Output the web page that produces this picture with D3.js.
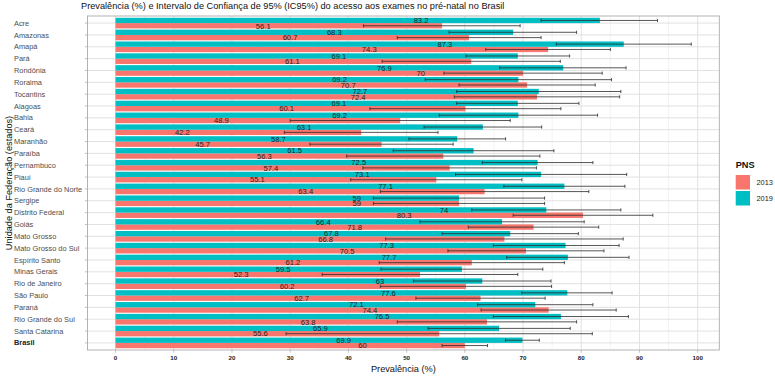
<!DOCTYPE html>
<html>
<head>
<meta charset="utf-8">
<script src="https://cdn.jsdelivr.net/npm/d3@7"></script>
<style>
html,body{margin:0;padding:0;background:#fff;}
svg{display:block;font-family:"Liberation Sans",Arial,Helvetica,sans-serif;}
</style>
</head>
<body>
<svg id="chart" width="775" height="386"></svg>
<script>
const states = ["Acre","Amazonas","Amapá","Pará","Rondônia","Roraima","Tocantins","Alagoas","Bahia","Ceará","Maranhão","Paraíba","Pernambuco","Piauí","Rio Grande do Norte","Sergipe","Distrito Federal","Goiás","Mato Grosso","Mato Grosso do Sul","Espírito Santo","Minas Gerais","Rio de Janeiro","São Paulo","Paraná","Rio Grande do Sul","Santa Catarina","Brasil"];
const years = ["2013","2019"];
const prev2013 = [56.1,60.7,74.3,61.1,70,70.7,72.4,60.1,48.9,42.2,45.7,56.3,57.4,55.1,63.4,59,80.3,71.8,66.8,70.5,61.2,52.3,60.2,62.7,74.4,63.8,55.6,60];
const low2013  = [42.6,48.4,63.6,45.8,56.4,59.0,58.2,43.7,30.0,29.0,33.4,39.7,42.5,40.4,45.5,44.3,68.3,60.6,46.4,57.1,45.3,35.5,45.5,51.6,62.8,48.4,29.3,56.1];
const up2013   = [69.5,73.1,85.0,76.4,83.6,82.4,86.6,76.5,67.8,55.4,58.0,72.9,72.3,69.8,81.3,73.7,92.3,83.0,87.2,83.9,77.1,69.1,74.9,73.8,86.0,79.2,81.9,63.9];
const prev2019 = [83.2,68.3,87.3,69.1,76.9,69.2,72.7,69.1,69.2,63.1,58.7,61.5,72.5,73.1,77.1,59,74,66.4,67.8,77.3,77.7,59.5,63,77.6,72.1,76.5,65.9,69.9];
const low2019  = [73.1,57.3,75.7,60.2,66.0,53.2,58.6,58.6,55.6,53.0,50.4,47.7,63.0,58.4,66.7,44.3,61.2,52.3,56.1,64.9,67.2,45.6,51.2,69.8,62.2,64.9,53.7,67.0];
const up2019   = [93.1,79.2,98.9,78.0,87.7,85.2,86.8,79.6,82.8,73.2,67.0,75.3,82.0,87.8,87.5,73.7,86.8,80.5,79.5,86.5,88.2,73.4,74.8,85.3,82.0,88.1,78.1,72.8];
const xTicks = [0,10,20,30,40,50,60,70,80,90,100];
const xMinor = [5,15,25,35,45,55,65,75,85,95];

const titleText = "Prevalência (%) e Intervalo de Confiança de 95% (IC95%) do acesso aos exames no pré-natal no Brasil";
const xTitle = "Prevalência (%)";
const yTitle = "Unidade da Federação (estados)";
const legendTitle = "PNS";
const colors = {"2013":"#F8766D","2019":"#00BFC4"};

const data = [];
states.forEach((s,i)=>{
  data.push({state:s, year:"2013", v:prev2013[i], lo:low2013[i], hi:up2013[i]});
  data.push({state:s, year:"2019", v:prev2019[i], lo:low2019[i], hi:up2019[i]});
});

const svg = d3.select("#chart");
const P = {left:87.5, right:719.3, top:16, bottom:350};

const x = d3.scaleLinear().domain([-4.81,103.71]).range([P.left,P.right]);
const y = d3.scaleBand().domain(states).range([P.top,P.bottom]).paddingInner(0).paddingOuter(0.1);
const step = y.step();
const yIn = d3.scaleBand().domain(["2019","2013"]).range([0.05*step, 0.95*step]);

// panel background
svg.append("rect").attr("x",P.left).attr("y",P.top).attr("width",P.right-P.left).attr("height",P.bottom-P.top).attr("fill","#fff");

// grid
const g = svg.append("g");
g.selectAll("line.minor").data(xMinor).join("line")
  .attr("x1",d=>x(d)).attr("x2",d=>x(d)).attr("y1",P.top).attr("y2",P.bottom)
  .attr("stroke","#E6E6E6").attr("stroke-width",0.5);
g.selectAll("line.major").data(xTicks).join("line")
  .attr("x1",d=>x(d)).attr("x2",d=>x(d)).attr("y1",P.top).attr("y2",P.bottom)
  .attr("stroke","#DEDEDE").attr("stroke-width",0.9);
g.selectAll("line.hy").data(states).join("line")
  .attr("x1",P.left).attr("x2",P.right)
  .attr("y1",d=>y(d)+step/2).attr("y2",d=>y(d)+step/2)
  .attr("stroke","#DEDEDE").attr("stroke-width",0.9);

// bars
svg.append("g").selectAll("rect").data(data).join("rect")
  .attr("x",x(0))
  .attr("y",d=>y(d.state)+yIn(d.year))
  .attr("width",d=>x(d.v)-x(0))
  .attr("height",yIn.bandwidth())
  .attr("fill",d=>colors[d.year]);

// error bars
const eb = svg.append("g").attr("stroke","#2b2b2b").attr("stroke-width",0.8).attr("fill","none");
data.forEach(d=>{
  const cy = y(d.state)+yIn(d.year)+yIn.bandwidth()/2;
  eb.append("line").attr("x1",x(d.lo)).attr("x2",x(d.hi)).attr("y1",cy).attr("y2",cy);
  eb.append("line").attr("x1",x(d.lo)).attr("x2",x(d.lo)).attr("y1",cy-1.6).attr("y2",cy+1.6);
  eb.append("line").attr("x1",x(d.hi)).attr("x2",x(d.hi)).attr("y1",cy-1.6).attr("y2",cy+1.6);
});

// value labels (hjust far to the left of the bar end)
const lab = svg.append("g").attr("font-size","7.6px").attr("fill","#222");
data.forEach(d=>{
  const cy = y(d.state)+yIn(d.year)+yIn.bandwidth()/2;
  const t = lab.append("text").text(String(d.v)).attr("y",cy).attr("dy","0.36em").attr("text-anchor","start");
  const w = t.node().getComputedTextLength();
  t.attr("x", x(d.v) - 12.6*w);
});

// panel border
svg.append("rect").attr("x",P.left).attr("y",P.top).attr("width",P.right-P.left).attr("height",P.bottom-P.top)
  .attr("fill","none").attr("stroke","#ABABAB").attr("stroke-width",0.9);

// y axis ticks and labels
const ya = svg.append("g");
ya.selectAll("line").data(states).join("line")
  .attr("x1",P.left-2.7).attr("x2",P.left).attr("y1",d=>y(d)+step/2).attr("y2",d=>y(d)+step/2)
  .attr("stroke","#B3B3B3").attr("stroke-width",0.8);
ya.selectAll("text").data(states).join("text")
  .attr("x",14).attr("y",d=>y(d)+step/2).attr("dy","0.35em")
  .attr("font-size","7.4px").attr("fill","#4D4D4D")
  .attr("font-weight",d=>d==="Brasil"?"bold":"normal")
  .attr("fill",d=>d==="Brasil"?"#222":"#4D4D4D")
  .text(d=>d);

// x axis ticks and labels
const xa = svg.append("g");
xa.selectAll("line").data(xTicks).join("line")
  .attr("x1",d=>x(d)).attr("x2",d=>x(d)).attr("y1",P.bottom).attr("y2",P.bottom+2.7)
  .attr("stroke","#B3B3B3").attr("stroke-width",0.8);
xa.selectAll("text").data(xTicks).join("text")
  .attr("x",d=>x(d)).attr("y",358.3).attr("dy","0.35em").attr("text-anchor","middle")
  .attr("font-size","6.2px").attr("font-weight","bold").attr("fill","#222")
  .text(d=>d);

// axis titles
svg.append("text").attr("x",(P.left+P.right)/2).attr("y",368.5).attr("dy","0.35em")
  .attr("text-anchor","middle").attr("font-size","9.2px").attr("fill","#111").text(xTitle);
svg.append("text").attr("transform",`translate(8.5,${(P.top+P.bottom)/2}) rotate(-90)`)
  .attr("dy","0.35em").attr("text-anchor","middle").attr("font-size","9.2px").attr("fill","#111").text(yTitle);

// title
svg.append("text").attr("x",81).attr("y",6).attr("dy","0.35em").attr("font-size","9.2px").attr("fill","#111").text(titleText);

// legend
const lg = svg.append("g");
lg.append("text").attr("x",735.7).attr("y",165).attr("dy","0.35em").attr("font-size","9.2px").attr("font-weight","bold").attr("fill","#111").text(legendTitle);
years.forEach((yr,i)=>{
  lg.append("rect").attr("x",735.7).attr("y",175+i*16).attr("width",14.3).attr("height",14.5).attr("fill",colors[yr]);
  lg.append("text").attr("x",756.5).attr("y",182.3+i*16).attr("dy","0.35em").attr("font-size","7.4px").attr("fill","#222").text(yr);
});
</script>
</body>
</html>
